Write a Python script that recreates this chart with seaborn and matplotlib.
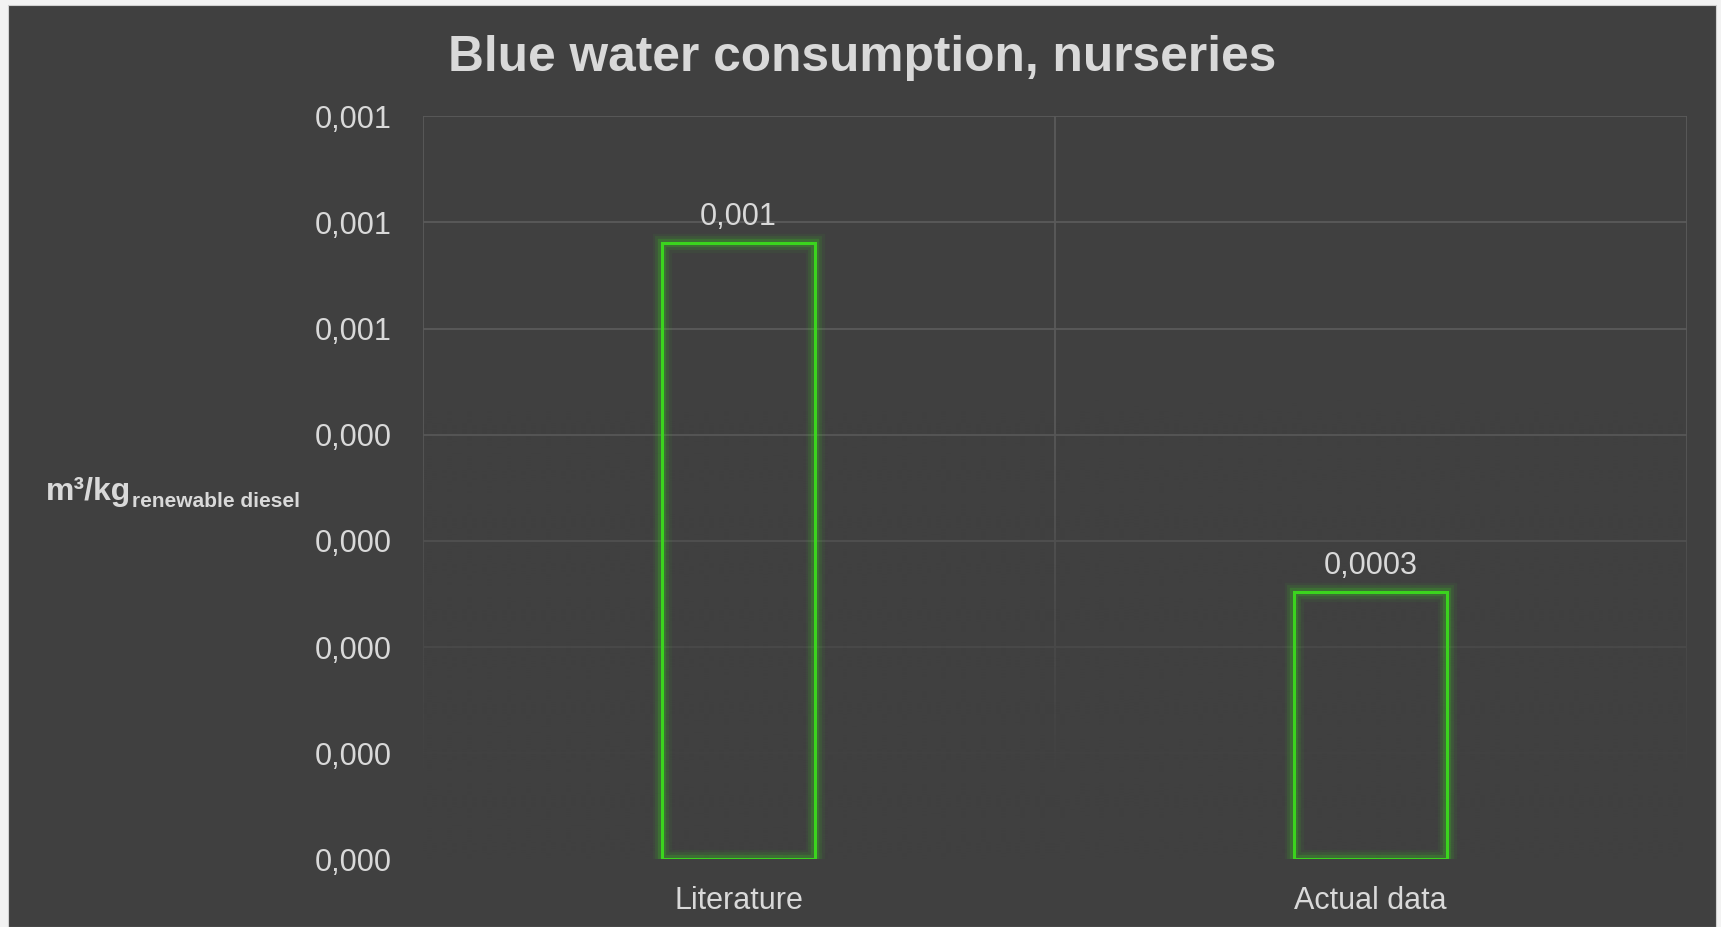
import numpy as np
import pandas as pd
import matplotlib
matplotlib.use("Agg")
import matplotlib.pyplot as plt
import matplotlib.patheffects as pe
from matplotlib.patches import Rectangle
from matplotlib.ticker import FixedLocator, FuncFormatter
from decimal import Decimal, ROUND_HALF_UP
import seaborn as sns

# Blue water consumption per kg renewable diesel, nursery stage
categories = ["Literature", "Actual data"]
values = [0.000581, 0.000252]
label_decimals = [3, 4]
y_ticks = [0.0, 0.0001, 0.0002, 0.0003, 0.0004, 0.0005, 0.0006, 0.0007]

BG = "#404040"
FRAME = "#f2f2f2"
TEXT = "#d9d9d9"
GRID = "#5a5a5a"
GREEN = "#3bd41e"

sns.set_theme(style="dark")
plt.rcParams["font.family"] = ["Liberation Sans", "DejaVu Sans"]


def comma_fmt(v, decimals):
    q = Decimal(str(v)).quantize(Decimal(1).scaleb(-decimals), rounding=ROUND_HALF_UP)
    return f"{q:.{decimals}f}".replace(".", ",")


W, H = 1721, 927
fig = plt.figure(figsize=(W / 100, H / 100), dpi=100, facecolor=FRAME)
# dark chart panel inside the light frame
fig.patches.append(Rectangle((8 / W, 0), (1716 - 8) / W, (927 - 5) / H,
                             transform=fig.transFigure, facecolor=BG,
                             edgecolor="#d0d0d0", linewidth=0.8, zorder=-10))

ax = fig.add_axes([422.6 / W, 1 - 859.4 / H, (1686.7 - 422.6) / W, (859.4 - 116.3) / H])
ax.set_facecolor(BG)
ax.set_zorder(1)

df = pd.DataFrame({"category": categories, "value": values})
sns.barplot(data=df, x="category", y="value", ax=ax, fill=False, color=GREEN,
            width=0.243, linewidth=2.2, errorbar=None, zorder=3)

glow = [pe.Stroke(linewidth=14, foreground=GREEN, alpha=0.06),
        pe.Stroke(linewidth=10, foreground=GREEN, alpha=0.10),
        pe.Stroke(linewidth=6, foreground=GREEN, alpha=0.20),
        pe.Normal()]
for p in ax.patches:
    p.set_edgecolor(GREEN)
    p.set_path_effects(glow)

ax.set_xlim(-0.5, 1.5)
ax.set_ylim(0, 0.0007)
ax.yaxis.set_major_locator(FixedLocator(y_ticks))
ax.yaxis.set_major_formatter(FuncFormatter(lambda v, pos: comma_fmt(v, 3)))

# gridlines: horizontal at each tick, vertical at category boundaries
ax.set_axisbelow(True)
ax.grid(axis="y", color=GRID, linewidth=1.3)
for xb in (-0.5, 0.5, 1.5):
    ax.axvline(xb, color=GRID, linewidth=1.3, zorder=0.5)

# shading that fades the grid towards the bottom of the plot
yy = np.linspace(0, 1, 256)
alpha = np.clip((0.62 - yy) / 0.52, 0, 1)
shade = np.zeros((256, 1, 4))
shade[..., :3] = matplotlib.colors.to_rgb(BG)
shade[:, 0, 3] = alpha
ax.imshow(shade, extent=(0, 1, 0, 1), origin="lower", aspect="auto",
          transform=ax.transAxes, zorder=0.8, interpolation="bilinear")
ax.set_xlim(-0.5, 1.5)
ax.set_ylim(0, 0.0007)

for s in ax.spines.values():
    s.set_visible(False)
ax.tick_params(axis="y", length=0, pad=22.5, labelsize=22, labelcolor=TEXT)
ax.tick_params(axis="x", length=0, pad=19, labelsize=22, labelcolor=TEXT)
ax.set_xlabel("")
ax.set_ylabel("")

# value labels above bars
for i, (v, d) in enumerate(zip(values, label_decimals)):
    ax.annotate(comma_fmt(v, d), xy=(i, v), xytext=(0, 18.7), textcoords="offset points",
                ha="center", va="center", fontsize=22, color=TEXT, zorder=5)

# title
fig.text(862 / W, 1 - 71 / H, "Blue water consumption, nurseries", ha="center",
         va="baseline", fontsize=35.7, fontweight="bold", color=TEXT)

# unit label with subscript
unit = fig.text(46 / W, 1 - 500 / H, "m³/kg", ha="left", va="baseline",
                fontsize=23, fontweight="bold", color=TEXT)
fig.canvas.draw()
bb = unit.get_window_extent(renderer=fig.canvas.get_renderer())
fig.text((bb.x1 + 1) / W, 1 - 507 / H, "renewable diesel", ha="left", va="baseline",
         fontsize=15, fontweight="bold", color=TEXT)

fig.savefig("out.png", dpi=100, facecolor=FRAME)
